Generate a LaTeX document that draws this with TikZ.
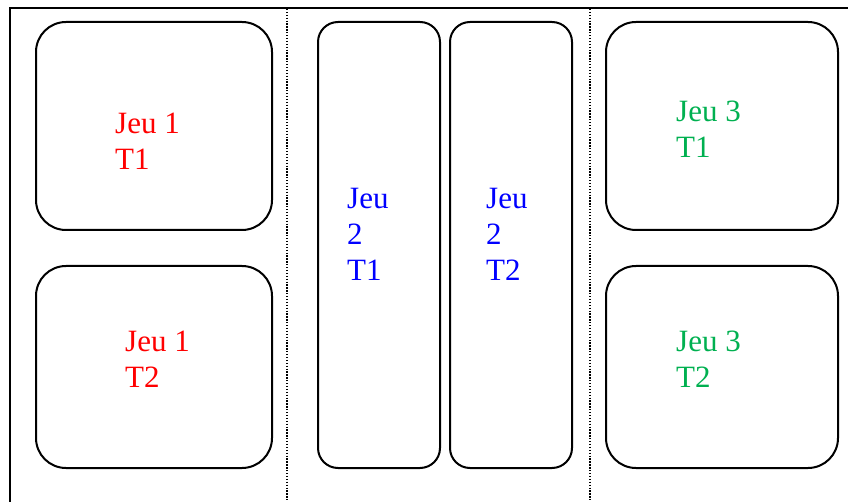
\documentclass[tikz,border=0pt]{standalone}
\usepackage{fontspec}
\setmainfont{Liberation Serif}
\definecolor{jred}{RGB}{255,0,0}
\definecolor{jblue}{RGB}{0,0,255}
\definecolor{jgreen}{RGB}{0,176,80}
\begin{document}
\begin{tikzpicture}[x=1pt,y=-1pt,
  tray/.style={draw=black,line width=2pt,rounded corners=#1,inner sep=0pt},
  tray/.default=30pt,
  lbl/.style={anchor=base west,inner sep=0pt,font=\fontsize{31}{36}\selectfont,align=left},
  sep/.style={line width=1.5pt,dash pattern=on 1.3pt off 1.6pt}]
\useasboundingbox (0,0) rectangle (848,502);
% outer frame (left and top)
\coordinate (fbl) at (10,502);
\coordinate (ftl) at (10,8);
\coordinate (ftr) at (849,8);
\draw[line width=2pt] (fbl) -- (ftl) -- (ftr);
% dotted separators
\coordinate (s1t) at (287,9);
\coordinate (s1b) at (287,502);
\coordinate (s2t) at (590,9);
\coordinate (s2b) at (590,502);
\draw[sep] (s1t) -- (s1b);
\draw[sep] (s2t) -- (s2b);
% trays
\draw[tray] (36,22) rectangle (272,230);
\draw[tray] (36,266) rectangle (272,468);
\draw[tray=20pt] (318,22) rectangle (440,468);
\draw[tray=20pt] (450,22) rectangle (572,468);
\draw[tray] (606,22) rectangle (838,230);
\draw[tray] (606,266) rectangle (838,468);
% labels (anchor = baseline of last line)
\node[lbl,text=jred] (t1) at (115,170) {Jeu 1\\T1};
\node[lbl,text=jred] (t2) at (125,387) {Jeu 1\\T2};
\node[lbl,text=jblue] (t3) at (347,281) {Jeu\\2\\T1};
\node[lbl,text=jblue] (t4) at (486,281) {Jeu\\2\\T2};
\node[lbl,text=jgreen] (t5) at (676,158) {Jeu 3\\T1};
\node[lbl,text=jgreen] (t6) at (676,387) {Jeu 3\\T2};
\end{tikzpicture}
\end{document}
